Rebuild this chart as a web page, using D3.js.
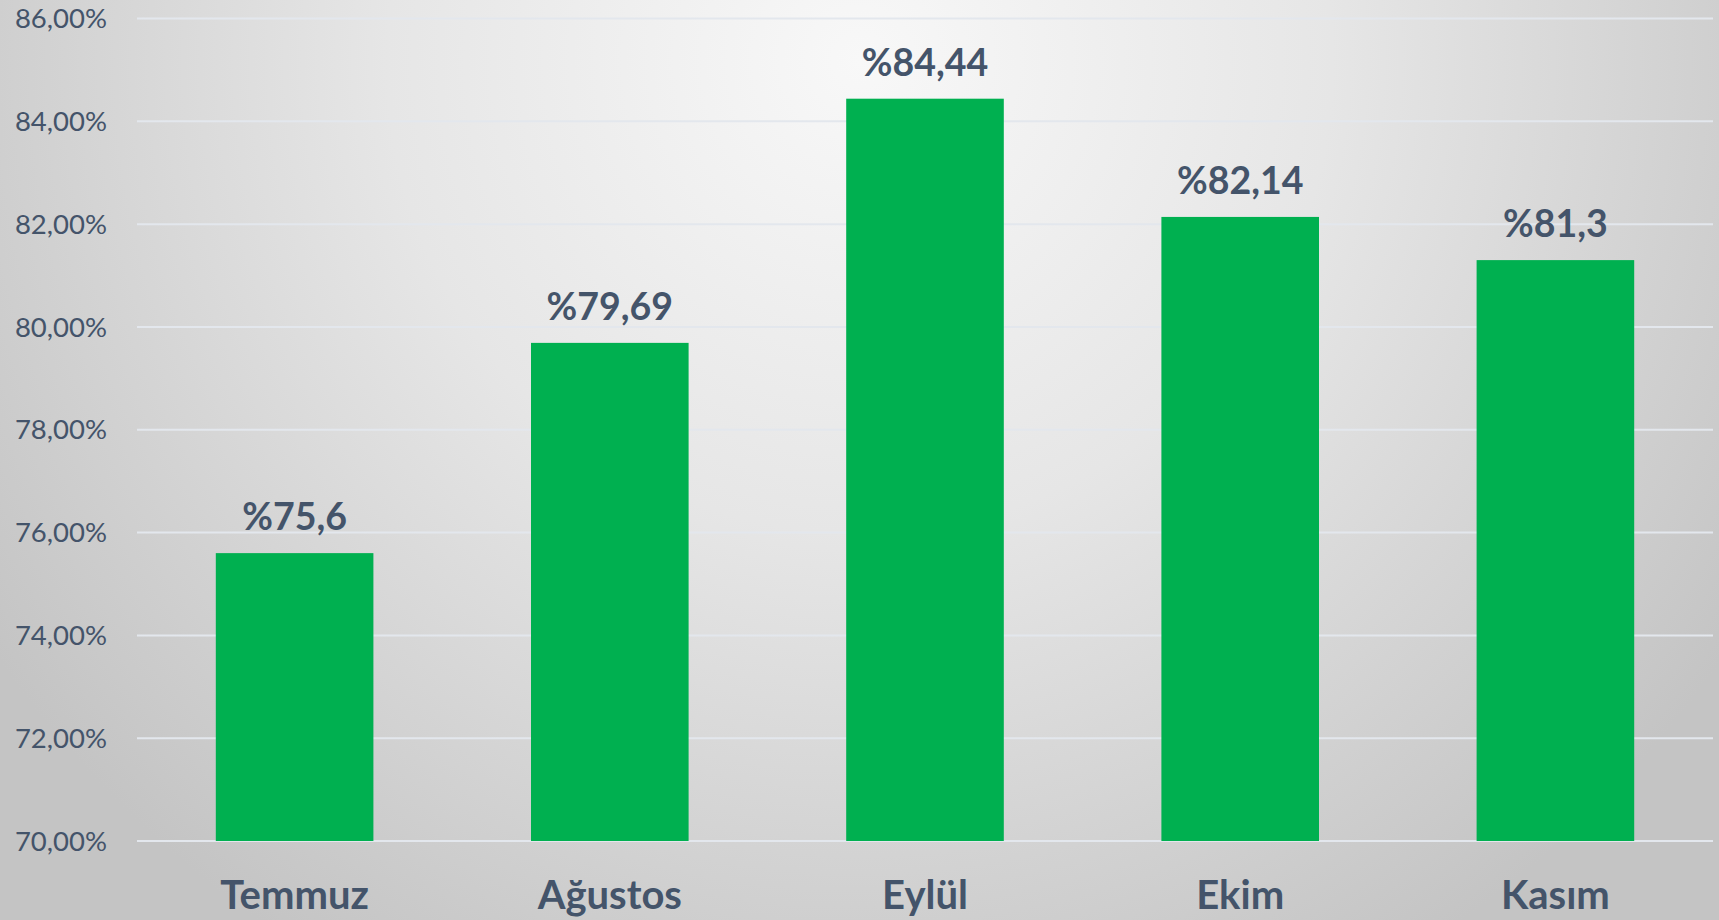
<!DOCTYPE html>
<html>
<head>
<meta charset="utf-8">
<script src="https://cdn.jsdelivr.net/npm/d3@7.9.0/dist/d3.min.js"></script>
<style>
  html, body { margin: 0; padding: 0; }
  body { width: 1719px; height: 920px; overflow: hidden; }
  svg { display: block; font-family: Lato, "Open Sans", sans-serif; }
</style>
</head>
<body>
<svg id="chart" width="1719" height="920"></svg>
<script>
const months = ['Temmuz', 'Ağustos', 'Eylül', 'Ekim', 'Kasım'];
const rates = [75.6, 79.69, 84.44, 82.14, 81.3];
const valueLabels = ['%75,6', '%79,69', '%84,44', '%82,14', '%81,3'];
const yTicks = [70, 72, 74, 76, 78, 80, 82, 84, 86];

const width = 1719;
const height = 920;
const margin = { top: 18.5, right: 6, bottom: 79, left: 137 };
const textColor = '#44546a';

const svg = d3.select('#chart');

const defs = svg.append('defs');
const bg = defs.append('radialGradient')
  .attr('id', 'bg')
  .attr('gradientUnits', 'userSpaceOnUse')
  .attr('cx', 860).attr('cy', 60).attr('r', 1050);
bg.append('stop').attr('offset', '0%').attr('stop-color', '#f8f8f8');
bg.append('stop').attr('offset', '45%').attr('stop-color', '#e6e6e6');
bg.append('stop').attr('offset', '100%').attr('stop-color', '#c4c4c4');

svg.append('rect')
  .attr('width', width)
  .attr('height', height)
  .attr('fill', 'url(#bg)');

const x = d3.scaleBand()
  .domain(months)
  .range([margin.left, width - margin.right])
  .paddingInner(0.5)
  .paddingOuter(0.25);

const y = d3.scaleLinear()
  .domain([70, 86])
  .range([height - margin.bottom, margin.top]);

const fmtTick = (d) => d3.format('.2f')(d).replace('.', ',') + '%';

// gridlines
svg.append('g')
  .selectAll('line')
  .data(yTicks)
  .join('line')
  .attr('x1', margin.left)
  .attr('x2', width - margin.right)
  .attr('y1', (d) => y(d))
  .attr('y2', (d) => y(d))
  .attr('stroke', '#e3e7ed')
  .attr('stroke-width', 2);

// y axis labels
svg.append('g')
  .selectAll('text')
  .data(yTicks)
  .join('text')
  .attr('x', 107)
  .attr('y', (d) => y(d))
  .attr('dy', '0.35em')
  .attr('text-anchor', 'end')
  .attr('fill', textColor)
  .attr('font-size', 27.5)
  .text(fmtTick);

const data = months.map((m, i) => ({ month: m, value: rates[i], label: valueLabels[i] }));

svg.append('g')
  .selectAll('rect')
  .data(data)
  .join('rect')
  .attr('x', (d) => x(d.month))
  .attr('width', x.bandwidth())
  .attr('y', (d) => y(d.value))
  .attr('height', (d) => y(70) - y(d.value))
  .attr('fill', '#00b050');

svg.append('g')
  .selectAll('text')
  .data(data)
  .join('text')
  .attr('x', (d) => x(d.month) + x.bandwidth() / 2)
  .attr('y', (d) => y(d.value) - 23)
  .attr('text-anchor', 'middle')
  .attr('fill', textColor)
  .attr('font-size', 37.5)
  .attr('font-weight', 700)
  .text((d) => d.label);

svg.append('g')
  .selectAll('text')
  .data(months)
  .join('text')
  .attr('x', (d) => x(d) + x.bandwidth() / 2)
  .attr('y', 909)
  .attr('text-anchor', 'middle')
  .attr('fill', textColor)
  .attr('font-size', 40)
  .attr('font-weight', 700)
  .text((d) => d);
</script>
</body>
</html>
